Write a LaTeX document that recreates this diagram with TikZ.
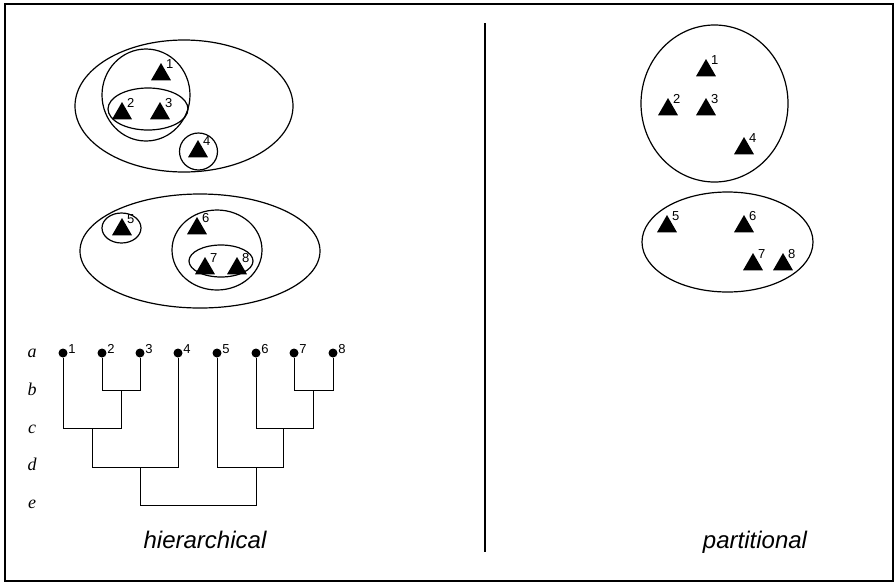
\documentclass[tikz,border=0pt]{standalone}
\usepackage{fontspec}
\setmainfont{Liberation Serif}
\setsansfont{Liberation Sans}
\usetikzlibrary{shapes.geometric}
\begin{document}
\begin{tikzpicture}[x=1pt,y=-1pt,
  tri/.style={regular polygon, regular polygon sides=3, minimum size=23pt,
    inner sep=0pt, fill=black, draw=none},
  num/.style={font=\sffamily\fontsize{13}{13}\selectfont, inner sep=0pt, anchor=north west},
  blob/.style={line width=1.2pt},
  leaf/.style={circle, fill=black, minimum size=9pt, inner sep=0pt},
  tree/.style={line width=1pt},
  lvl/.style={font=\itshape\fontsize{18}{18}\selectfont, inner sep=0pt, anchor=base},
  caption/.style={font=\sffamily\itshape\fontsize{24}{24}\selectfont, inner sep=0pt, anchor=base}]
\useasboundingbox (0,0) rectangle (896,582);
% frame and divider
\draw[line width=1.4pt] (5,4) rectangle (893,581);
\draw[line width=1.4pt] (485,23) -- (485,552);

% ---- hierarchical: nested clusters ----
\draw[blob] (184,106) ellipse [x radius=109pt, y radius=66pt];
\draw[blob] (146,95) ellipse [x radius=44pt, y radius=46pt];
\draw[blob] (148,109) ellipse [x radius=40pt, y radius=21pt];
\draw[blob] (198.5,151.5) ellipse [x radius=19pt, y radius=18.5pt];
\draw[blob] (200,251) ellipse [x radius=120pt, y radius=57pt];
\draw[blob] (121.5,228) ellipse [x radius=19.5pt, y radius=15pt];
\draw[blob] (217,250) ellipse [x radius=45pt, y radius=40pt];
\draw[blob] (221,261) ellipse [x radius=32pt, y radius=16pt];

\foreach \n/\x/\y in {1/161/74.5, 2/122/113.5, 3/160/113.5, 4/198/151.5,
                      5/122/229.5, 6/197/228.5, 7/205/268.5, 8/237/268.5}{
  \node[tri] (t\n) at (\x,\y) {};
  \node[num] (tl\n) at ([xshift=5pt,yshift=3pt]t\n.corner 1) {\n};
}

% ---- partitional clusters ----
\draw[blob] (714.5,103.5) ellipse [x radius=73.5pt, y radius=78.5pt];
\draw[blob] (727.5,242) ellipse [x radius=85.5pt, y radius=50pt];
\foreach \n/\x/\y in {1/706/70.5, 2/668/109.5, 3/706/109.5, 4/744/148.5,
                      5/667/226.5, 6/744/226.5, 7/753/264.5, 8/783/264.5}{
  \node[tri] (p\n) at (\x,\y) {};
  \node[num] (pl\n) at ([xshift=5pt,yshift=3pt]p\n.corner 1) {\n};
}

% ---- dendrogram ----
\foreach \n/\x in {1/63, 2/102, 3/140, 4/178, 5/217, 6/256, 7/294, 8/333}{
  \node[leaf] (d\n) at (\x,353) {};
  \node[num, anchor=south west] (dl\n) at ([xshift=0.5pt,yshift=-1pt]d\n.east) {\n};
}
\coordinate (j23) at (121,390);
\coordinate (j78) at (313,390);
\coordinate (j123) at (92,428);
\coordinate (j678) at (283,428);
\coordinate (j1234) at (140,467);
\coordinate (j5678) at (256,467);
\coordinate (jroot) at (198,505);
\draw[tree] (d2) |- (j23) -| (d3);
\draw[tree] (d1) |- (j123) -| (j23);
\draw[tree] (j123) |- (j1234) -| (d4);
\draw[tree] (d7) |- (j78) -| (d8);
\draw[tree] (d6) |- (j678) -| (j78);
\draw[tree] (d5) |- (j5678) -| (j678);
\draw[tree] (j1234) |- (jroot) -| (j5678);

% level letters
\foreach \l/\y in {a/357, b/395, c/433, d/470, e/508}{
  \node[lvl] (lv\l) at (32,\y) {\l};
}

% captions
\node[caption] (hcap) at (205,548) {hierarchical};
\node[caption] (pcap) at (755,548) {partitional};
\end{tikzpicture}
\end{document}
